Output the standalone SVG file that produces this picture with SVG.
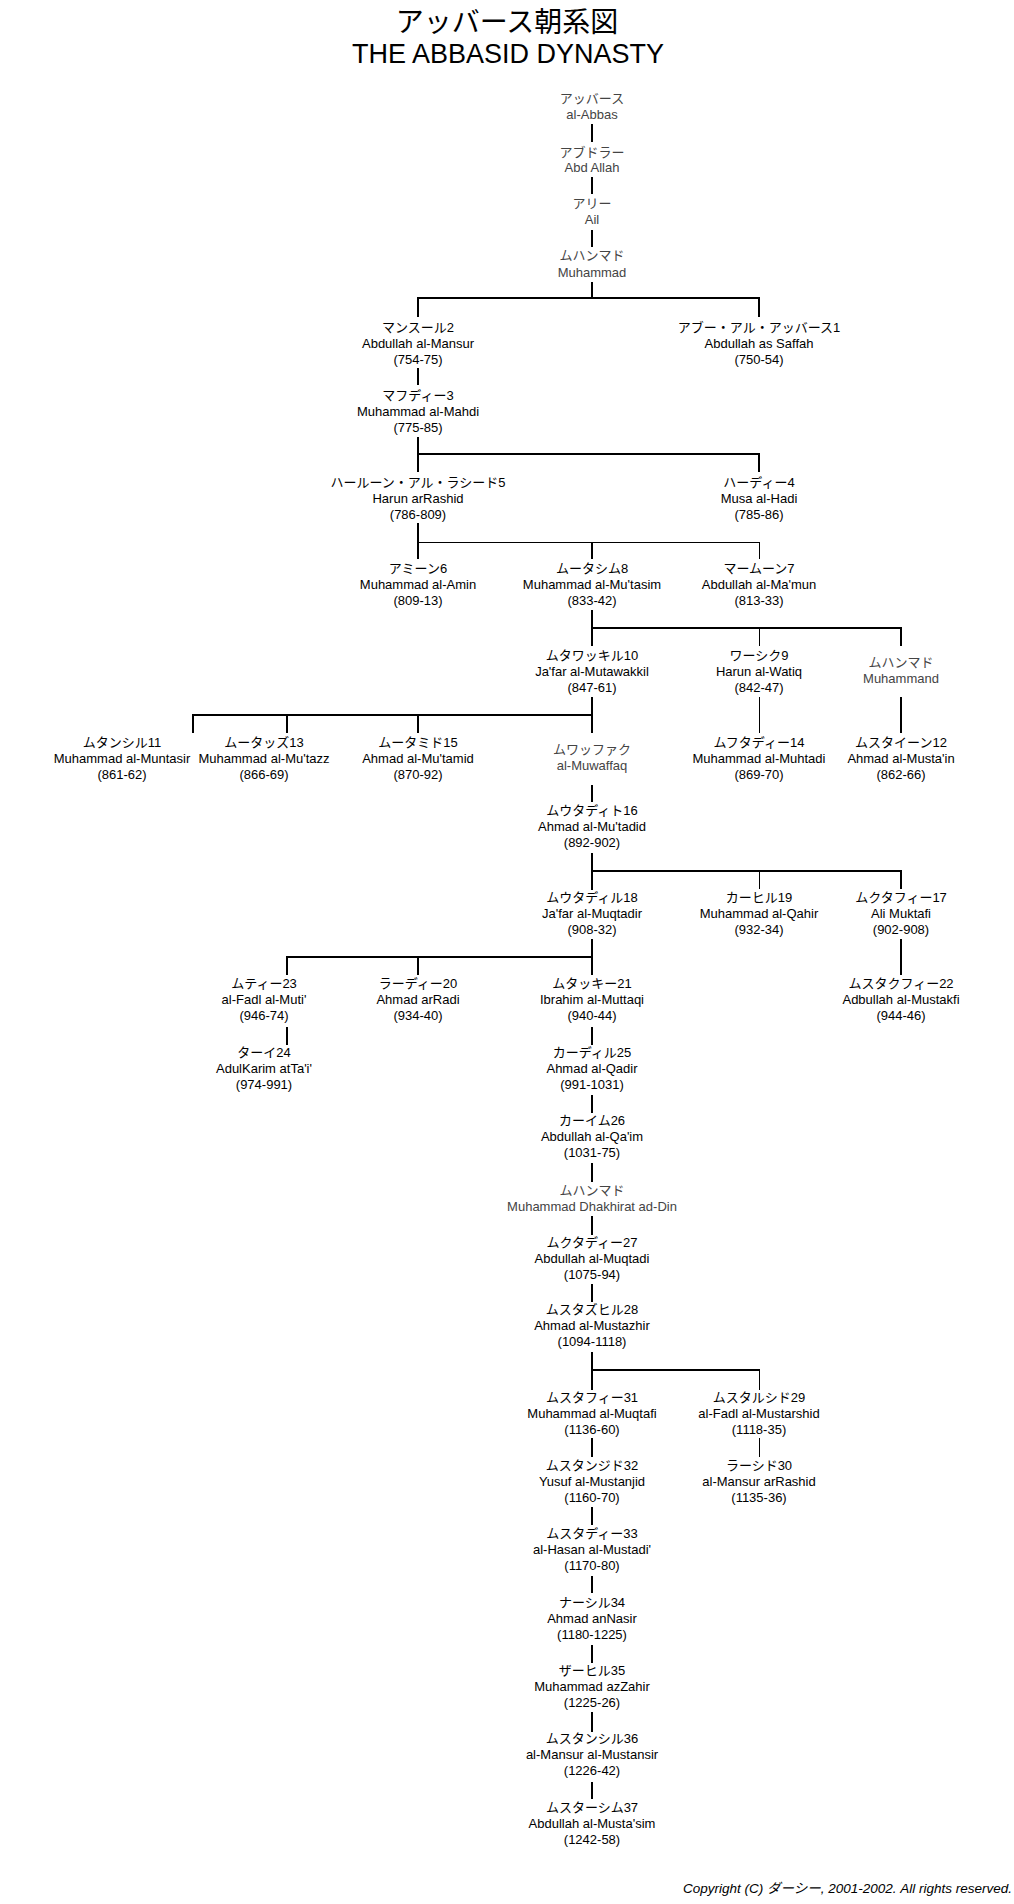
<svg xmlns="http://www.w3.org/2000/svg" width="1014" height="1904" viewBox="0 0 1014 1904">
<style>
text{font-family:"Liberation Sans","Noto Sans CJK JP",sans-serif;font-size:13px;text-anchor:middle;fill:#000}
.g text{fill:#444}
.title{font-size:27px}
.titlej{font-size:28px}
.copy{font-size:13.5px;font-style:italic;text-anchor:end}
.k line{stroke:#000;stroke-width:2;fill:none}
.k line.n{stroke-width:1}
</style>
<rect width="1014" height="1904" fill="#fff"/>
<g id="title">
<text class="titlej" x="507" y="32">アッバース朝系図</text>
<text class="title" x="508" y="63">THE ABBASID DYNASTY</text>
</g>
<g id="connectors" class="k">
<line x1="592" y1="124" x2="592" y2="142"/>
<line x1="592" y1="177" x2="592" y2="194"/>
<line x1="592" y1="230" x2="592" y2="247"/>
<line x1="592" y1="282" x2="592" y2="298"/>
<line x1="417" y1="298" x2="760" y2="298"/>
<line x1="418" y1="298" x2="418" y2="317"/>
<line x1="759" y1="298" x2="759" y2="317"/>
<line x1="418" y1="368" x2="418" y2="385"/>
<line x1="418" y1="437" x2="418" y2="472"/>
<line x1="418" y1="454" x2="760" y2="454"/>
<line x1="759" y1="454" x2="759" y2="472"/>
<line x1="418" y1="523" x2="418" y2="559"/>
<line class="n" x1="418" y1="542.5" x2="759" y2="542.5"/>
<line x1="592" y1="542" x2="592" y2="559"/>
<line class="n" x1="759.5" y1="542" x2="759.5" y2="559"/>
<line x1="592" y1="610" x2="592" y2="646"/>
<line x1="592" y1="628" x2="902" y2="628"/>
<line class="n" x1="759.5" y1="628" x2="759.5" y2="646"/>
<line x1="901" y1="628" x2="901" y2="646"/>
<line x1="592" y1="697" x2="592" y2="733"/>
<line x1="192" y1="715" x2="593" y2="715"/>
<line x1="193" y1="715" x2="193" y2="733"/>
<line x1="287" y1="715" x2="287" y2="733"/>
<line x1="418" y1="715" x2="418" y2="733"/>
<line class="n" x1="759.5" y1="697" x2="759.5" y2="733"/>
<line x1="901" y1="697" x2="901" y2="733"/>
<line x1="592" y1="785" x2="592" y2="802"/>
<line x1="592" y1="853" x2="592" y2="890"/>
<line x1="592" y1="871" x2="902" y2="871"/>
<line class="n" x1="759.5" y1="871" x2="759.5" y2="889"/>
<line x1="901" y1="871" x2="901" y2="889"/>
<line x1="592" y1="939" x2="592" y2="975"/>
<line x1="286" y1="957" x2="593" y2="957"/>
<line x1="287" y1="957" x2="287" y2="975"/>
<line x1="418" y1="957" x2="418" y2="975"/>
<line x1="901" y1="939" x2="901" y2="975"/>
<line x1="287" y1="1027" x2="287" y2="1045"/>
<line x1="592" y1="1027" x2="592" y2="1045"/>
<line x1="592" y1="1095" x2="592" y2="1113"/>
<line x1="592" y1="1163" x2="592" y2="1182"/>
<line x1="592" y1="1216" x2="592" y2="1235"/>
<line x1="592" y1="1284" x2="592" y2="1302"/>
<line x1="592" y1="1352" x2="592" y2="1390"/>
<line x1="592" y1="1370" x2="760" y2="1370"/>
<line class="n" x1="759.5" y1="1370" x2="759.5" y2="1390"/>
<line x1="592" y1="1438" x2="592" y2="1457"/>
<line class="n" x1="759.5" y1="1438" x2="759.5" y2="1457"/>
<line x1="592" y1="1507" x2="592" y2="1525"/>
<line x1="592" y1="1576" x2="592" y2="1593"/>
<line x1="592" y1="1645" x2="592" y2="1663"/>
<line x1="592" y1="1712" x2="592" y2="1732"/>
<line x1="592" y1="1782" x2="592" y2="1799"/>
</g>
<g id="abbas" class="g"><text x="592" y="103">アッバース</text><text x="592" y="119">al-Abbas</text></g>
<g id="abdallah" class="g"><text x="592" y="157">アブドラー</text><text x="592" y="172">Abd Allah</text></g>
<g id="ali" class="g"><text x="592" y="208">アリー</text><text x="592" y="224">Ail</text></g>
<g id="muhammad1" class="g"><text x="592" y="260">ムハンマド</text><text x="592" y="277">Muhammad</text></g>
<g id="mansur"><text x="418" y="332">マンスール2</text><text x="418" y="348">Abdullah al-Mansur</text><text x="418" y="363.5">(754-75)</text></g>
<g id="saffah"><text x="759" y="332">アブー・アル・アッバース1</text><text x="759" y="348">Abdullah as Saffah</text><text x="759" y="363.5">(750-54)</text></g>
<g id="mahdi"><text x="418" y="400">マフディー3</text><text x="418" y="416">Muhammad al-Mahdi</text><text x="418" y="431.5">(775-85)</text></g>
<g id="harun"><text x="418" y="487">ハールーン・アル・ラシード5</text><text x="418" y="503">Harun arRashid</text><text x="418" y="518.5">(786-809)</text></g>
<g id="hadi"><text x="759" y="487">ハーディー4</text><text x="759" y="503">Musa al-Hadi</text><text x="759" y="518.5">(785-86)</text></g>
<g id="amin"><text x="418" y="573">アミーン6</text><text x="418" y="589">Muhammad al-Amin</text><text x="418" y="604.5">(809-13)</text></g>
<g id="mutasim"><text x="592" y="573">ムータシム8</text><text x="592" y="589">Muhammad al-Mu'tasim</text><text x="592" y="604.5">(833-42)</text></g>
<g id="mamun"><text x="759" y="573">マームーン7</text><text x="759" y="589">Abdullah al-Ma'mun</text><text x="759" y="604.5">(813-33)</text></g>
<g id="mutawakkil"><text x="592" y="660">ムタワッキル10</text><text x="592" y="676">Ja'far al-Mutawakkil</text><text x="592" y="691.5">(847-61)</text></g>
<g id="wathiq"><text x="759" y="660">ワーシク9</text><text x="759" y="676">Harun al-Watiq</text><text x="759" y="691.5">(842-47)</text></g>
<g id="muhammad2" class="g"><text x="901" y="667">ムハンマド</text><text x="901" y="683">Muhammand</text></g>
<g id="muntasir"><text x="122" y="747">ムタンシル11</text><text x="122" y="763">Muhammad al-Muntasir</text><text x="122" y="778.5">(861-62)</text></g>
<g id="mutazz"><text x="264" y="747">ムータッズ13</text><text x="264" y="763">Muhammad al-Mu'tazz</text><text x="264" y="778.5">(866-69)</text></g>
<g id="mutamid"><text x="418" y="747">ムータミド15</text><text x="418" y="763">Ahmad al-Mu'tamid</text><text x="418" y="778.5">(870-92)</text></g>
<g id="muwaffaq" class="g"><text x="592" y="754">ムワッファク</text><text x="592" y="770">al-Muwaffaq</text></g>
<g id="muhtadi"><text x="759" y="747">ムフタディー14</text><text x="759" y="763">Muhammad al-Muhtadi</text><text x="759" y="778.5">(869-70)</text></g>
<g id="mustain"><text x="901" y="747">ムスタイーン12</text><text x="901" y="763">Ahmad al-Musta'in</text><text x="901" y="778.5">(862-66)</text></g>
<g id="mutadid"><text x="592" y="815">ムウタディト16</text><text x="592" y="831">Ahmad al-Mu'tadid</text><text x="592" y="846.5">(892-902)</text></g>
<g id="muqtadir"><text x="592" y="902">ムウタディル18</text><text x="592" y="918">Ja'far al-Muqtadir</text><text x="592" y="933.5">(908-32)</text></g>
<g id="qahir"><text x="759" y="902">カーヒル19</text><text x="759" y="918">Muhammad al-Qahir</text><text x="759" y="933.5">(932-34)</text></g>
<g id="muktafi"><text x="901" y="902">ムクタフィー17</text><text x="901" y="918">Ali Muktafi</text><text x="901" y="933.5">(902-908)</text></g>
<g id="muti"><text x="264" y="988">ムティー23</text><text x="264" y="1004">al-Fadl al-Muti'</text><text x="264" y="1019.5">(946-74)</text></g>
<g id="radi"><text x="418" y="988">ラーディー20</text><text x="418" y="1004">Ahmad arRadi</text><text x="418" y="1019.5">(934-40)</text></g>
<g id="muttaqi"><text x="592" y="988">ムタッキー21</text><text x="592" y="1004">Ibrahim al-Muttaqi</text><text x="592" y="1019.5">(940-44)</text></g>
<g id="mustakfi"><text x="901" y="988">ムスタクフィー22</text><text x="901" y="1004">Adbullah al-Mustakfi</text><text x="901" y="1019.5">(944-46)</text></g>
<g id="tai"><text x="264" y="1057">ターイ24</text><text x="264" y="1073">AdulKarim atTa'i'</text><text x="264" y="1088.5">(974-991)</text></g>
<g id="qadir"><text x="592" y="1057">カーディル25</text><text x="592" y="1073">Ahmad al-Qadir</text><text x="592" y="1088.5">(991-1031)</text></g>
<g id="qaim"><text x="592" y="1125">カーイム26</text><text x="592" y="1141">Abdullah al-Qa'im</text><text x="592" y="1156.5">(1031-75)</text></g>
<g id="muhammad3" class="g"><text x="592" y="1195">ムハンマド</text><text x="592" y="1211">Muhammad Dhakhirat ad-Din</text></g>
<g id="muqtadi"><text x="592" y="1247">ムクタディー27</text><text x="592" y="1263">Abdullah al-Muqtadi</text><text x="592" y="1278.5">(1075-94)</text></g>
<g id="mustazhir"><text x="592" y="1314">ムスタズヒル28</text><text x="592" y="1330">Ahmad al-Mustazhir</text><text x="592" y="1345.5">(1094-1118)</text></g>
<g id="muqtafi"><text x="592" y="1402">ムスタフィー31</text><text x="592" y="1418">Muhammad al-Muqtafi</text><text x="592" y="1433.5">(1136-60)</text></g>
<g id="mustarshid"><text x="759" y="1402">ムスタルシド29</text><text x="759" y="1418">al-Fadl al-Mustarshid</text><text x="759" y="1433.5">(1118-35)</text></g>
<g id="mustanjid"><text x="592" y="1470">ムスタンジド32</text><text x="592" y="1486">Yusuf al-Mustanjid</text><text x="592" y="1501.5">(1160-70)</text></g>
<g id="rashid"><text x="759" y="1470">ラーシド30</text><text x="759" y="1486">al-Mansur arRashid</text><text x="759" y="1501.5">(1135-36)</text></g>
<g id="mustadi"><text x="592" y="1538">ムスタディー33</text><text x="592" y="1554">al-Hasan al-Mustadi'</text><text x="592" y="1569.5">(1170-80)</text></g>
<g id="nasir"><text x="592" y="1607">ナーシル34</text><text x="592" y="1623">Ahmad anNasir</text><text x="592" y="1638.5">(1180-1225)</text></g>
<g id="zahir"><text x="592" y="1675">ザーヒル35</text><text x="592" y="1691">Muhammad azZahir</text><text x="592" y="1706.5">(1225-26)</text></g>
<g id="mustansir"><text x="592" y="1743">ムスタンシル36</text><text x="592" y="1759">al-Mansur al-Mustansir</text><text x="592" y="1774.5">(1226-42)</text></g>
<g id="mustasim"><text x="592" y="1812">ムスターシム37</text><text x="592" y="1828">Abdullah al-Musta'sim</text><text x="592" y="1843.5">(1242-58)</text></g>
<g id="copyright"><text class="copy" x="1012" y="1893">Copyright (C) ダーシー, 2001-2002. All rights reserved.</text></g>
</svg>
